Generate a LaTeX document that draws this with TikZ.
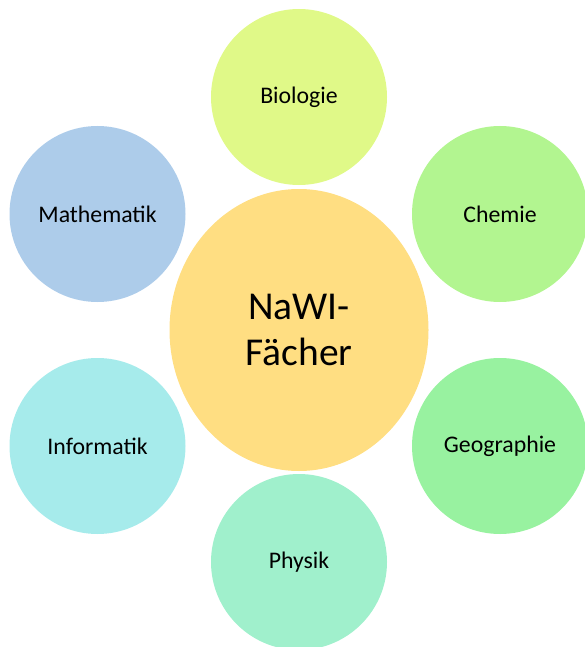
\documentclass[tikz,border=0pt]{standalone}
\usepackage{fontspec}
\setmainfont{Carlito}
\usetikzlibrary{shapes.geometric}
\definecolor{cCenter}{RGB}{255,222,130}
\definecolor{cBio}{RGB}{224,249,136}
\definecolor{cChem}{RGB}{178,245,144}
\definecolor{cGeo}{RGB}{152,242,160}
\definecolor{cPhys}{RGB}{160,240,204}
\definecolor{cInfo}{RGB}{166,235,235}
\definecolor{cMath}{RGB}{173,204,234}
\tikzset{
  subj/.style={circle, minimum size=176pt, inner sep=0pt, draw=none,
    font=\fontsize{23.8}{28}\selectfont, text=black},
  hub/.style={ellipse, minimum width=259pt, minimum height=282pt, inner sep=0pt,
    draw=none, fill=cCenter, align=center,
    font=\fontsize{39.5}{46.7}\selectfont, text=black}
}
\begin{document}
\begin{tikzpicture}[x=1pt,y=-1pt]
\useasboundingbox (0,0) rectangle (584,647);
\node[hub] (hub) at (299,330) {NaWI-\\Fächer};
\node[subj, fill=cBio] (bio) at (299,97) {Biologie};
\node[subj, fill=cChem] (chem) at (500,214) {Chemie};
\node[subj, fill=cGeo] (geo) at (500,446) {Geographie};
\node[subj, fill=cPhys] (phys) at (299,562) {Physik};
\node[subj, fill=cInfo] (info) at (97.5,446) {Informatik};
\node[subj, fill=cMath] (math) at (97.5,214) {Mathematik};
\end{tikzpicture}
\end{document}
